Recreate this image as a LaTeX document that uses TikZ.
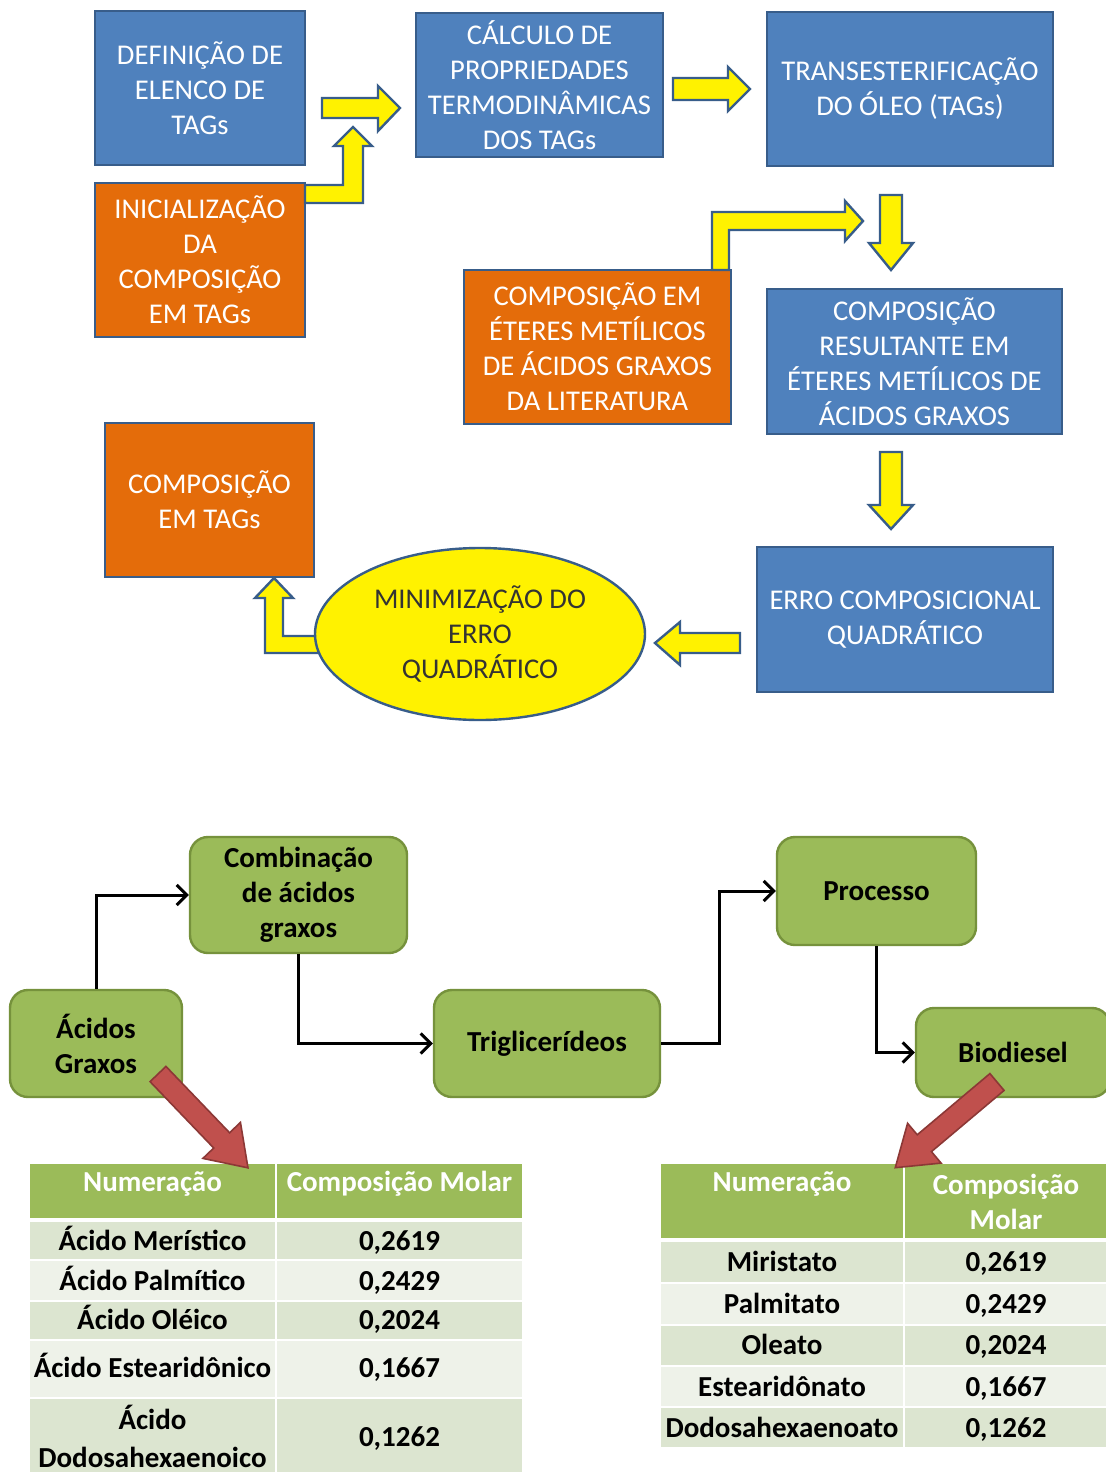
\documentclass[tikz,border=0pt]{standalone}
\usepackage{fontspec}
\setmainfont{Carlito}
\usetikzlibrary{arrows.meta,shapes.geometric}
\definecolor{boxblue}{HTML}{4F81BD}
\definecolor{lineblue}{HTML}{385D8A}
\definecolor{boxorange}{HTML}{E46C0A}
\definecolor{boxgreen}{HTML}{9BBB59}
\definecolor{linegreen}{HTML}{76923C}
\definecolor{boxred}{HTML}{C0504D}
\definecolor{linered}{HTML}{8C3836}
\definecolor{rowdark}{HTML}{DCE5D0}
\definecolor{rowlight}{HTML}{EEF2E9}
\begin{document}
\begin{tikzpicture}[x=0.5pt,y=-0.5pt]
		\tikzset{box/.style = {shape=rectangle,draw=lineblue,line width=1.2pt,text=white,align=center,inner sep=0pt,font=\fontsize{14.3}{17.5}\selectfont}}
		\tikzset{bluebox/.style = {box,fill=boxblue}}
		\tikzset{orangebox/.style = {box,fill=boxorange}}
		\tikzset{yarrow/.style = {fill=yellow,draw=lineblue,line width=1.2pt,line join=miter}}
		\tikzset{rarrow/.style = {fill=boxred,draw=linered,line width=0.8pt,line join=miter}}
		\tikzset{greenbox/.style = {shape=rectangle,rounded corners=9pt,draw=linegreen,fill=boxgreen,line width=1.2pt,align=center,inner sep=0pt,font=\fontsize{14.5}{17.5}\selectfont\bfseries}}
		\tikzset{edge/.style = {-{Straight Barb[length=5pt,width=10pt]},line width=1.5pt}}
		\tikzset{cell/.style = {align=center,inner sep=0pt,anchor=base,font=\fontsize{14.5}{19}\selectfont\bfseries}}
		\tikzset{head/.style = {align=center,inner sep=0pt,text=white,font=\fontsize{14.5}{17.5}\selectfont\bfseries}}
		\path[use as bounding box,fill=white] (0,0) rectangle (1105,1472);
		% fluxograma superior
		\node[bluebox,minimum width=105pt,minimum height=77pt] (a) at (200,88) {DEFINIÇÃO DE\\ELENCO DE\\TAGs};
		\node[orangebox,minimum width=105pt,minimum height=77pt] (b) at (200,260) {INICIALIZAÇÃO\\DA\\COMPOSIÇÃO\\EM TAGs};
		\node[bluebox,minimum width=123.5pt,minimum height=72pt] (c) at (539.5,85) {CÁLCULO DE\\PROPRIEDADES\\TERMODINÂMICAS\\DOS TAGs};
		\node[bluebox,minimum width=143pt,minimum height=77pt] (d) at (910,89) {TRANSESTERIFICAÇÃO\\DO ÓLEO (TAGs)};
		\node[orangebox,minimum width=133.5pt,minimum height=77pt] (e) at (597.5,347) {COMPOSIÇÃO EM\\ÉTERES METÍLICOS\\DE ÁCIDOS GRAXOS\\DA LITERATURA};
		\node[bluebox,minimum width=147.5pt,minimum height=72.5pt] (f) at (914.5,361.5) {COMPOSIÇÃO\\RESULTANTE EM\\ÉTERES METÍLICOS DE\\ÁCIDOS GRAXOS};
		\node[orangebox,minimum width=104.5pt,minimum height=77pt] (g) at (209.5,500) {COMPOSIÇÃO\\EM TAGs};
		\node[bluebox,minimum width=148pt,minimum height=72.5pt] (i) at (905,619.5) {ERRO COMPOSICIONAL\\QUADRÁTICO};
		% setas amarelas
		\draw[yarrow] (322,98) -- (378,98) -- (378,86) -- (400,108) -- (378,131) -- (378,118) -- (322,118) -- cycle;
		\draw[yarrow] (305,185) -- (343,185) -- (343,146) -- (334,146) -- (353,127) -- (372,146) -- (363,146) -- (363,203) -- (305,203) -- cycle;
		\draw[yarrow] (673,78) -- (728,78) -- (728,67) -- (750,89) -- (728,111) -- (728,100) -- (673,100) -- cycle;
		\draw[yarrow] (880,195) -- (902,195) -- (902,243) -- (913,243) -- (891,270) -- (869,243) -- (880,243) -- cycle;
		\draw[yarrow] (712,270) -- (712,212) -- (845,212) -- (845,201) -- (863,221) -- (845,241) -- (845,230) -- (729,230) -- (729,270) -- cycle;
		\draw[yarrow] (880,452) -- (902,452) -- (902,505) -- (913,505) -- (891,529) -- (869,505) -- (880,505) -- cycle;
		\draw[yarrow] (740,633) -- (680,633) -- (680,622) -- (655,643) -- (680,665) -- (680,653) -- (740,653) -- cycle;
		\draw[yarrow] (330,636) -- (283,636) -- (283,598) -- (293,598) -- (274,578) -- (255,598) -- (265,598) -- (265,653) -- (330,653) -- cycle;
		\node[shape=ellipse,draw=lineblue,fill=yellow,line width=1.2pt,minimum width=165pt,minimum height=86pt,align=center,inner sep=0pt,text=black!80,font=\fontsize{14.3}{17.5}\selectfont] (h) at (480,634) {MINIMIZAÇÃO DO\\ERRO\\QUADRÁTICO};
		% fluxograma inferior
		\node[greenbox,minimum width=86pt,minimum height=53.5pt] (ac) at (96,1043.5) {Ácidos\\Graxos};
		\node[greenbox,minimum width=108.5pt,minimum height=58pt] (co) at (298.5,895) {Combinação\\de ácidos\\graxos};
		\node[greenbox,minimum width=113pt,minimum height=53.5pt] (tr) at (547,1043.5) {Triglicerídeos};
		\node[greenbox,minimum width=99.5pt,minimum height=54pt] (pr) at (876.5,891) {Processo};
		\node[greenbox,minimum width=97pt,minimum height=44.5pt] (bi) at (1013,1052.5) {Biodiesel};
		\draw[edge] (ac.north) |- (co.west);
		\draw[edge] (co.south) |- (tr.west);
		\draw[edge] (tr.east) -- ++(58,0) |- (pr.west);
		\draw[edge] (pr.south) |- (bi.west);
		% tabela esquerda
		\path[fill=boxgreen,draw=white,line width=1pt] (29,1163) rectangle (276,1219) (276,1163) rectangle (523,1219);
		\foreach \t/\b/\c in {1221/1260/rowdark,1260/1301/rowlight,1301/1340/rowdark,1340/1398/rowlight,1398/1480/rowdark}
			\path[fill=\c,draw=white,line width=1pt] (29,\t) rectangle (276,\b) (276,\t) rectangle (523,\b);
		\node[head] (lh1) at (152.5,1184) {Numeração};
		\node[head] (lh2) at (399.5,1184) {Composição Molar};
		\foreach \n/\v/\y [count=\i] in {Ácido Merístico/{0,2619}/1250,Ácido Palmítico/{0,2429}/1290,Ácido Oléico/{0,2024}/1329,Ácido Estearidônico/{0,1667}/1377}{
			\node[cell] (ln\i) at (152.5,\y) {\n};
			\node[cell] (lv\i) at (399.5,\y) {\v};
		}
		\node[cell,anchor=center] (ln5) at (152.5,1436) {Ácido\\Dodosahexaenoico};
		\node[cell] (lv5) at (399.5,1446) {0,1262};
		% tabela direita
		\path[fill=boxgreen,draw=white,line width=1pt] (660,1163) rectangle (904,1239) (904,1163) rectangle (1110,1239);
		\foreach \t/\b/\c in {1241/1283/rowdark,1283/1325/rowlight,1325/1366/rowdark,1366/1407/rowlight,1407/1448/rowdark}
			\path[fill=\c,draw=white,line width=1pt] (660,\t) rectangle (904,\b) (904,\t) rectangle (1110,\b);
		\node[head] (rh1) at (782,1184) {Numeração};
		\node[head] (rh2) at (1006,1201.5) {Composição\\Molar};
		\foreach \n/\v/\y [count=\i] in {Miristato/{0,2619}/1271,Palmitato/{0,2429}/1313,Oleato/{0,2024}/1354,Estearidônato/{0,1667}/1396,Dodosahexaenoato/{0,1262}/1437}{
			\node[cell] (rn\i) at (782,\y) {\n};
			\node[cell] (rv\i) at (1006,\y) {\v};
		}
		% setas vermelhas
		\begin{scope}[shift={(158,1074)},rotate=-46.2]
			\draw[rarrow] (0,-11) -- (92,-11) -- (92,-26) -- (130,0) -- (92,26) -- (92,11) -- (0,11) -- cycle;
		\end{scope}
		\begin{scope}[shift={(997,1082)},rotate=-139.9]
			\draw[rarrow] (0,-11) -- (95,-11) -- (95,-26) -- (133,0) -- (95,26) -- (95,11) -- (0,11) -- cycle;
		\end{scope}
	\end{tikzpicture}
\end{document}
